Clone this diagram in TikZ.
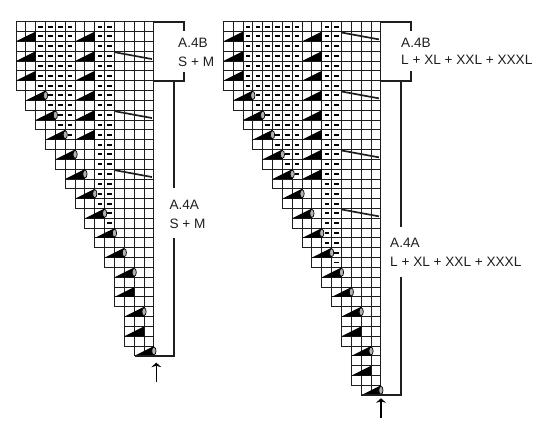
\documentclass[tikz,border=0pt]{standalone}
\usepackage{fontspec}
\setmainfont{Liberation Sans}
\usepackage{xcolor}
\usetikzlibrary{arrows.meta}
\definecolor{inkcol}{HTML}{1E1E1E}
\tikzset{
  gridline/.style={draw=inkcol, line width=0.95pt},
  wedge/.style={fill=black},
  purl/.style={fill=black},
  yarn/.style={draw=black, fill=black!30, line width=0.7pt},
  slant/.style={draw=inkcol, line width=1.7pt},
  bracket/.style={draw=inkcol, line width=1.6pt},
  uparrow/.style={draw=black, line width=1.4pt, -{Stealth[length=4.5pt,width=10pt]}},
  label/.style={anchor=base west, inner sep=0pt, text=inkcol, font=\fontsize{13.6}{16}\selectfont}
}
% #1 first row, #2 last row, #3 first column, #4 last column
\newcommand{\cellblock}[4]{\foreach \r in {#1,...,#2} {\foreach \c in {#3,...,#4} {\draw[gridline] (\c,\r) rectangle (\c+1,\r+1);}}}
\newcommand{\purlblock}[4]{\foreach \r in {#1,...,#2} {\foreach \c in {#3,...,#4} {\fill[purl] (\c+.5,\r+.5) +(-2.2pt,-.95pt) rectangle +(2.2pt,.95pt);}}}
\newcommand{\wedgecell}[2]{\fill[wedge] (#1,#2+1) -- (#1+2,#2) -- (#1+2,#2+1) -- cycle;}
\newcommand{\yarncell}[2]{\wedgecell{#1}{#2}\draw[yarn] (#1+2,#2+.5) ellipse [x radius=2.1pt,y radius=4pt];}
\newcommand{\slantcell}[1]{\draw[slant] (0,#1+.1) -- (3.8,#1+.8);}
\begin{document}
\begin{tikzpicture}[x=1pt,y=-1pt]
\useasboundingbox (0,0) rectangle (550,439);

% small chart
\begin{scope}[shift={(16,21.7)},x=9.85pt,y=-9.83pt]
\foreach \first/\last/\col in {0/6/0,7/8/1,9/10/2,11/12/3,13/14/4,15/16/5,17/18/6,19/20/7,21/22/8,23/24/9,25/28/10,29/32/11,33/33/12}
  {\cellblock{\first}{\last}{\col}{13}}
\purlblock{0}{6}{2}{5}
\purlblock{7}{8}{3}{5}
\purlblock{9}{10}{4}{5}
\purlblock{11}{11}{5}{5}
\purlblock{0}{18}{8}{9}
\purlblock{19}{20}{9}{9}
\foreach \r in {1,3,5} {\wedgecell{0}{\r}}
\foreach \r in {1,3,...,11} {\wedgecell{6}{\r}}
\foreach \c/\r in {1/7,2/9,3/11,4/13,5/15,6/17,7/19,8/21,9/23,10/25,11/29,12/33} {\yarncell{\c}{\r}}
\foreach \c/\r in {10/27,11/31} {\wedgecell{\c}{\r}}
\begin{scope}[xshift=98.5pt]
\foreach \r in {3,9,15} {\slantcell{\r}}
\end{scope}
\end{scope}

% large chart
\begin{scope}[shift={(223.3,21.7)},x=9.85pt,y=-9.83pt]
\foreach \first/\last/\col in {0/6/0,7/8/1,9/10/2,11/12/3,13/14/4,15/16/5,17/18/6,19/20/7,21/22/8,23/24/9,25/26/10,27/28/11,29/32/12,33/36/13,37/37/14}
  {\cellblock{\first}{\last}{\col}{15}}
\purlblock{0}{6}{2}{7}
\purlblock{7}{8}{3}{7}
\purlblock{9}{10}{4}{7}
\purlblock{11}{12}{5}{7}
\purlblock{13}{14}{6}{7}
\purlblock{15}{15}{7}{7}
\purlblock{0}{22}{10}{11}
\purlblock{23}{24}{11}{11}
\foreach \r in {1,3,5} {\wedgecell{0}{\r}}
\foreach \r in {1,3,...,15} {\wedgecell{8}{\r}}
\foreach \c/\r in {1/7,2/9,3/11,4/13,5/15,6/17,7/19,8/21,9/23,10/25,11/27,12/29,13/33,14/37} {\yarncell{\c}{\r}}
\foreach \c/\r in {12/31,13/35} {\wedgecell{\c}{\r}}
\begin{scope}[xshift=118.2pt]
\foreach \r in {1,7,13,19} {\slantcell{\r}}
\end{scope}
\end{scope}

% small chart brackets
\coordinate (sbtop) at (154,21.7);
\coordinate (sbtopend) at (184,30.7);
\coordinate (sbbot) at (154,80.7);
\coordinate (sbbotend) at (184,71.7);
\coordinate (sstem) at (174,80.7);
\coordinate (sstemgap) at (174,188);
\coordinate (sstemback) at (174,238);
\coordinate (sfoot) at (134.5,356);
\coordinate (sarrowa) at (156.3,382);
\coordinate (sarrowb) at (156.3,362.7);
\draw[bracket] (sbtop) -| (sbtopend);
\draw[bracket] (sbbot) -| (sbbotend);
\draw[bracket] (sstem) -- (sstemgap);
\draw[bracket] (sstemback) |- (sfoot);
\draw[uparrow] (sarrowa) -- (sarrowb);
\node[label] (sbname) at (178,47.6) {A.4B};
\node[label] (sbsize) at (178,66.7) {S + M};
\node[label] (saname) at (169.3,209.3) {A.4A};
\node[label] (sasize) at (169.3,228.3) {S + M};

% large chart brackets
\coordinate (lbtop) at (381,21.7);
\coordinate (lbtopend) at (411,30.7);
\coordinate (lbbot) at (381,80.7);
\coordinate (lbbotend) at (411,70.7);
\coordinate (lstem) at (401,80.7);
\coordinate (lstemgap) at (401,227);
\coordinate (lstemback) at (401,276.7);
\coordinate (lfoot) at (361.2,395);
\coordinate (larrowa) at (381,418);
\coordinate (larrowb) at (381,398.3);
\draw[bracket] (lbtop) -| (lbtopend);
\draw[bracket] (lbbot) -| (lbbotend);
\draw[bracket] (lstem) -- (lstemgap);
\draw[bracket] (lstemback) |- (lfoot);
\draw[uparrow] (larrowa) -- (larrowb);
\node[label] (lbname) at (401,47.4) {A.4B};
\node[label] (lbsize) at (401,64.2) {L + XL + XXL + XXXL};
\node[label] (laname) at (390,247.7) {A.4A};
\node[label] (lasize) at (390,266.7) {L + XL + XXL + XXXL};
\end{tikzpicture}
\end{document}
